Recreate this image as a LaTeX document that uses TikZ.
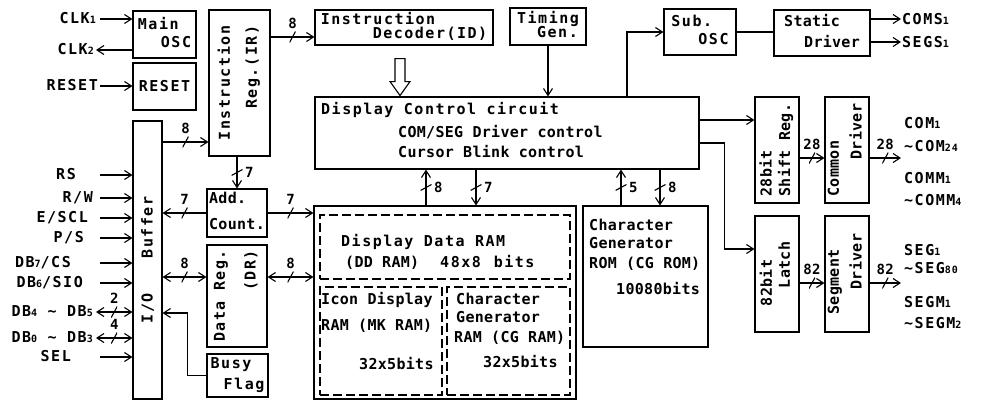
\documentclass[tikz,border=0pt]{standalone}
\usepackage{fontspec}
\usepackage{graphicx}
\setmonofont{DejaVu Sans Mono}[LetterSpace=2]
\newfontfamily\widemono{DejaVu Sans Mono}[LetterSpace=10]
\usetikzlibrary{arrows.meta, calc}

\newcommand{\lines}[3][0pt]{\begin{tabular}{@{}l@{}}#2\\[#1]#3\end{tabular}}
\newcommand{\lr}[3][0pt]{\begin{tabular}{@{}l@{}}#2\\[#1]\hfill#3\end{tabular}}
\newcommand{\smd}[1]{{\fontsize{10}{10}\selectfont#1}}
\newcommand{\wv}{\textasciitilde}

\begin{document}
\begin{tikzpicture}[
  x=1pt, y=-1pt,
  blk/.style 2 args={
    draw,
    line width=1.1pt,
    minimum width=#1pt,
    minimum height=#2pt,
    inner sep=0pt,
    font=\ttfamily\bfseries\fontsize{15}{15}\selectfont},
  dbox/.style 2 args={
    draw,
    line width=1.1pt,
    dash pattern=on 9pt off 4pt,
    minimum width=#1pt,
    minimum height=#2pt,
    inner sep=0pt},
  txt/.style={
    font=\ttfamily\bfseries\fontsize{15}{15}\selectfont,
    inner sep=1pt,
    text height=11pt,
    text depth=3pt},
  pin/.style={
    font=\widemono\bfseries\fontsize{15}{15}\selectfont,
    anchor=east,
    inner sep=1pt,
    text height=11pt,
    text depth=3pt},
  olbl/.style={
    font=\widemono\bfseries\fontsize{15}{15}\selectfont,
    anchor=west,
    inner sep=1pt},
  num/.style={
    font=\ttfamily\bfseries\fontsize{14}{14}\selectfont,
    inner sep=1.5pt},
  sig/.style={
    line width=1.1pt,
    -{Straight Barb[length=7pt,width=9pt]}},
  dsig/.style={
    line width=1.1pt,
    {Straight Barb[length=7pt,width=9pt]}-{Straight Barb[length=7pt,width=9pt]}},
  hbus/.style={
    inner sep=0pt,
    minimum width=6pt,
    minimum height=11pt,
    path picture={\draw[-, line width=1.1pt]
      (path picture bounding box.south west) -- (path picture bounding box.north east);},
    label={[num]above:#1}},
  vbus/.style={
    inner sep=0pt,
    minimum width=11pt,
    minimum height=6pt,
    path picture={\draw[-, line width=1.1pt]
      (path picture bounding box.south west) -- (path picture bounding box.north east);},
    label={[num]right:#1}},
]

\useasboundingbox (0,0) rectangle (984,402);

% left column
\node[blk={63}{47}] (osc) at (164.5,34.5) {\widemono\lines[3pt]{Main}{\hspace{23pt}OSC}};
\node[blk={63}{47}] (rst) at (164.5,86.5) {\widemono RESET};
\node[blk={29}{278}] (buf) at (147.5,260) {\rotatebox{90}{\widemono I/O\hspace{35pt}Buffer}};

\node[blk={61}{146}] (ir) at (239.5,83)
  {\rotatebox{90}{\widemono\lr[11pt]{Instruction}{Reg.(IR)}}};
\node[blk={60}{48}] (acnt) at (237,213) {\lines[10pt]{Add.}{Count.}};
\node[blk={60}{102}] (dreg) at (237,296)
  {\rotatebox{90}{\widemono\lr[15pt]{Data Reg.}{(DR)}}};
\node[blk={61}{43}] (busy) at (237.5,375.5) {\widemono\lines[5pt]{Busy}{\hspace{13pt}Flag}};

% top row
\node[blk={178}{35}] (idec) at (404,27.5)
  {\widemono\lines[-2pt]{Instruction}{\hspace{52pt}Decoder(ID)}};
\node[blk={76}{37}] (tgen) at (548,26.5) {\widemono\lines[-1pt]{Timing}{\hspace{20pt}Gen.}};
\node[blk={72}{46}] (sosc) at (700,32) {\widemono\lines[2pt]{Sub.}{\hspace{27pt}OSC}};
\node[blk={96}{46}] (sdrv) at (822,33) {\lines[5pt]{Static}{\hspace{20pt}Driver}};

% display control
\node[blk={384}{72}] (dcc) at (507,133) {};
\node[txt, anchor=west] (dct1) at (320,110) {\widemono Display Control circuit};
\node[txt, anchor=west] (dct2) at (397,133) {COM/SEG Driver control};
\node[txt, anchor=west] (dct3) at (397,153) {Cursor Blink control};

% RAM block
\node[blk={262}{193}] (ram) at (445,302.5) {};
\node[dbox={250}{64}] (ddram) at (445,247) {};
\node[dbox={122}{108}] (mkram) at (381,341) {};
\node[dbox={123}{108}] (cgram) at (508.5,341) {};

\node[txt, anchor=west] (dd1) at (340,242) {\widemono Display Data RAM};
\node[txt, anchor=west] (dd2) at (344,263)
  {(DD RAM)\hspace{21pt}\widemono 48x8\hspace{13pt}bits};
\node[txt, anchor=west] (mk1) at (320,300) {Icon Display};
\node[txt, anchor=west] (mk2) at (320,326) {RAM (MK RAM)};
\node[txt, anchor=west] (mk3) at (358,365) {32x5bits};
\node[txt, anchor=west] (cg1) at (455,300) {Character};
\node[txt, anchor=west] (cg2) at (455,318) {Generator};
\node[txt, anchor=west] (cg3) at (453,338) {RAM (CG RAM)};
\node[txt, anchor=west] (cg4) at (482,363) {32x5bits};

\node[blk={125}{141}] (cgrom) at (645.5,276.5) {};
\node[txt, anchor=west] (cr1) at (588,226) {Character};
\node[txt, anchor=west] (cr2) at (588,244) {Generator};
\node[txt, anchor=west] (cr3) at (588,264) {ROM (CG ROM)};
\node[txt, anchor=west] (cr4) at (615,290) {10080bits};

% drivers
\node[blk={44}{106}] (shreg) at (777,150) {\rotatebox{90}{\lines[2pt]{28bit}{Shift Reg.}}};
\node[blk={44}{106}] (cdrv) at (847,150)
  {\rotatebox{90}{\lines[6pt]{Common}{\hspace{37pt}Driver}}};
\node[blk={44}{116}] (latch) at (777,274)
  {\rotatebox{90}{\lines[2pt]{82bit}{\hspace{18pt}Latch\hspace{14pt}}}};
\node[blk={44}{116}] (segdrv) at (847,274)
  {\rotatebox{90}{\lines[6pt]{Segment}{\hspace{25pt}Driver}}};

% pins
\node[pin] (clk1) at (97,19) {CLK\smd{1}};
\node[pin] (clk2) at (95,50) {CLK\smd{2}};
\node[pin] (rstin) at (99,86) {RESET};
\node[pin] (rs) at (77,175) {RS};
\node[pin] (rw) at (94,198) {R/W};
\node[pin] (escl) at (89,218) {E/SCL};
\node[pin] (ps) at (85,238) {P/S};
\node[pin] (db7) at (72,263) {DB\smd{7}/CS};
\node[pin] (db6) at (84,283) {DB\smd{6}/SIO};
\node[pin] (db45) at (94,312) {DB\smd{4} \wv{} DB\smd{5}};
\node[pin] (db03) at (94,338) {DB\smd{0} \wv{} DB\smd{3}};
\node[pin] (sel) at (72,357) {SEL};

\node[olbl] (coms) at (901,19) {COMS\smd{1}};
\node[olbl] (segs) at (901,42) {SEGS\smd{1}};
\node[olbl] (comlbl) at (903,136.5) {\lines[8pt]{COM\smd{1}}{\wv COM\smd{24}}};
\node[olbl] (commlbl) at (903,191) {\lines[7pt]{COMM\smd{1}}{\wv COMM\smd{4}}};
\node[olbl] (seglbl) at (903,261) {\lines[3pt]{SEG\smd{1}}{\wv SEG\smd{80}}};
\node[olbl] (segmlbl) at (903,314.5) {\lines[6pt]{SEGM\smd{1}}{\wv SEGM\smd{2}}};

\coordinate (inx) at (100,0);
\coordinate (dinx) at (96,0);
\coordinate (outx) at (901,0);

% inputs
\draw[sig] (clk1.east -| inx) -- (clk1.east -| osc.west);
\draw[sig] (clk2.east -| osc.west) -- (clk2.east -| dinx);
\draw[sig] (rstin.east -| inx) -- (rstin.east -| rst.west);
\foreach \p in {rs, rw, escl, ps, db7, db6, sel}
  \draw[sig] (\p.east -| inx) -- (\p.east -| buf.west);
\draw[dsig] (db45.east -| dinx) -- node[hbus=2] {} (db45.east -| buf.west);
\draw[dsig] (db03.east -| dinx) -- node[hbus=4] {} (db03.east -| buf.west);

% buffer side
\coordinate (irin) at ([yshift=-59pt]ir.west);
\coordinate (irout) at ([yshift=46pt]ir.east);
\coordinate (drl) at ([yshift=19pt]dreg.west);
\coordinate (drr) at ([yshift=19pt]dreg.east);
\draw[sig] (irin -| buf.east) -- node[hbus=8] {} (irin);
\draw[sig] (irout) -- node[hbus=8] {} (irout -| idec.west);
\draw[sig] (ir.south -| acnt.north) -- node[vbus=7] {} (acnt.north);
\draw[sig] (acnt.west) -- node[hbus=7] {} (acnt.west -| buf.east);
\draw[sig] (acnt.east) -- node[hbus=7] {} (acnt.east -| ram.west);
\draw[dsig] (drl -| buf.east) -- node[hbus=8] {} (drl);
\draw[dsig] (drr) -- node[hbus=8] {} (drr -| ram.west);
\draw[sig] (busy.west) -- ++(-19,0) |- ([yshift=-53pt]buf.east);

% control
\coordinate (hol) at ([xshift=-4pt,yshift=-13pt]idec.south);
\draw[line width=1.1pt, fill=white] (hol) ++(-5,0) -- ++(10,0) -- ++(0,23) -- ++(5,0)
  -- ++(-10,14) -- ++(-10,-14) -- ++(5,0) -- cycle;
\draw[sig] (tgen.south) -- (tgen.south |- dcc.north);
\draw[sig] ([xshift=120pt]dcc.north) |- (sosc.west);
\draw[line width=1.1pt] (sosc.east) -- (sosc.east -| sdrv.west);
\draw[sig] (coms.west -| sdrv.east) -- (coms.west);
\draw[sig] (segs.west -| sdrv.east) -- (segs.west);

\coordinate (ramup) at ([xshift=-19pt]ram.north);
\coordinate (ramdn) at ([xshift=31pt]ram.north);
\coordinate (romup) at ([xshift=-24.5pt]cgrom.north);
\coordinate (romdn) at ([xshift=14.5pt]cgrom.north);
\draw[sig] (ramup) -- node[vbus=8] {} (ramup |- dcc.south);
\draw[sig] (ramdn |- dcc.south) -- node[vbus=7] {} (ramdn);
\draw[sig] (romup) -- node[vbus=5] {} (romup |- dcc.south);
\draw[sig] (romdn |- dcc.south) -- node[vbus=8] {} (romdn);

% drivers
\coordinate (shin) at ([yshift=13pt]dcc.east);
\coordinate (dcl) at ([yshift=-10pt]dcc.east);
\coordinate (lain) at ([yshift=25pt]latch.west);
\coordinate (shout) at ([yshift=-8pt]shreg.east);
\coordinate (laout) at ([yshift=-9pt]latch.east);
\draw[sig] (shin) -- (shin -| shreg.west);
\draw[sig] (dcl) -- ++(25,0) |- (lain);
\draw[sig] (shout) -- node[hbus=28] {} (shout -| cdrv.west);
\draw[sig] (shout -| cdrv.east) -- node[hbus=28] {} (shout -| outx);
\draw[sig] (laout) -- node[hbus=82] {} (laout -| segdrv.west);
\draw[sig] (laout -| segdrv.east) -- node[hbus=82] {} (laout -| outx);

\end{tikzpicture}
\end{document}
